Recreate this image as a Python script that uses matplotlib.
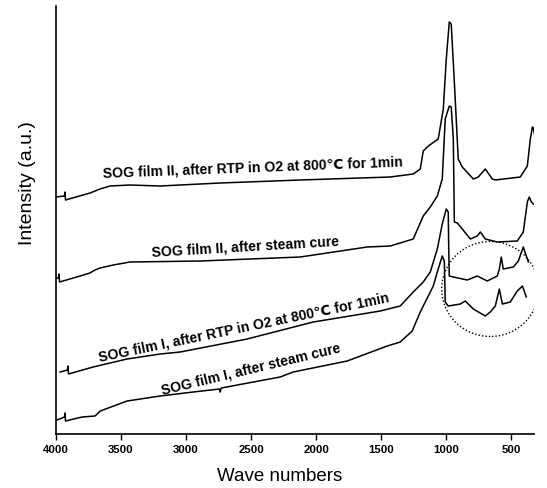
import matplotlib.pyplot as plt
from matplotlib.patches import Ellipse

plt.rcParams['font.family'] = ['Liberation Sans', 'DejaVu Sans']

# wavenumber (cm-1) / intensity (a.u.)
wn_a = [4000, 3935, 3931, 3927, 3738, 3662, 3585, 3431, 3200, 2738, 2123, 1431,
        1254, 1200, 1177, 1138, 1062, 1023, 1000, 977, 962, 938, 908, 877, 792,
        754, 700, 646, 623, 431, 377, 354, 338, 331, 323]
int_a = [237, 238, 242, 234, 241, 245, 248, 249, 248, 251, 254, 257,
         260, 265, 283, 288, 295, 325, 375, 412, 410, 352, 275, 267, 255,
         257, 265, 255, 254, 257, 268, 295, 307, 306, 300]

wn_b = [3995, 3981, 3977, 3973, 3815, 3740, 3700, 3662, 3560, 3431, 2892, 2123,
        1608, 1431, 1254, 1177, 1123, 1069, 1031, 1008, 977, 962, 946, 938, 915,
        877, 815, 762, 738, 700, 608, 454, 408, 377, 362, 346, 331]
int_b = [156, 156, 160, 152, 158, 161, 164, 166, 169, 172, 173, 177,
         187, 188, 195, 218, 227, 238, 255, 315, 328, 327, 295, 212, 211,
         205, 195, 198, 202, 195, 192, 193, 202, 232, 237, 232, 230]

wn_c = [3969, 3912, 3908, 3904, 3715, 3454, 3200, 3046, 2531, 2023, 1508, 1354,
        1254, 1177, 1123, 1069, 1031, 1000, 985, 981, 977, 946, 838, 762, 685,
        608, 592, 577, 562, 485, 446, 408, 369]
int_c = [62, 64, 68, 60, 67, 75, 80, 82, 95, 112, 123, 128,
         142, 152, 162, 185, 210, 225, 222, 185, 158, 157, 154, 158, 153,
         158, 165, 177, 165, 167, 173, 187, 172]

wn_d = [3992, 3935, 3931, 3927, 3800, 3700, 3660, 3454, 3200, 2946, 2745, 2738,
        2730, 2277, 2177, 1762, 1454, 1354, 1262, 1200, 1100, 1062, 1031, 1015,
        1008, 985, 892, 854, 792, 700, 662, 623, 592, 569, 508, 454, 415, 385]
int_d = [14, 17, 21, 13, 17, 18, 23, 33, 38, 42, 45, 42,
         46, 57, 62, 73, 88, 92, 103, 122, 148, 165, 178, 173,
         132, 128, 130, 133, 125, 118, 122, 128, 145, 130, 132, 143, 148, 137]

labels = ['SOG film II, after RTP in O2 at 800\u2103 for 1min',
          'SOG film II, after steam cure',
          'SOG film I, after RTP in O2 at 800\u2103 for 1min',
          'SOG film I, after steam cure']
label_pos = [(3638, 257), (3262, 179), (3662, 73), (3185, 40)]
label_rot = [2.2, 3.4, 11.7, 13.5]

fig = plt.figure(figsize=(5.47, 4.89), dpi=100)
ax = fig.add_axes([0.1024, 0.1104, 0.874, 0.8753])

for wn, inten in [(wn_a, int_a), (wn_b, int_b), (wn_c, int_c), (wn_d, int_d)]:
    ax.plot(wn, inten, color='black', linewidth=1.1)

for text, (x, y), rot in zip(labels, label_pos, label_rot):
    ax.text(x, y, text, rotation=rot, rotation_mode='anchor',
            ha='left', va='baseline', fontsize=10.1, fontweight='bold')

# dotted circle around the fingerprint region
ax.add_patch(Ellipse((662, 145), 746, 95, fill=False, linestyle=(0, (1, 1.5)),
                     linewidth=1.0, edgecolor='black'))

ax.set_xlim(4000, 325)
ax.set_ylim(0, 428)
ax.set_xticks([4000, 3500, 3000, 2500, 2000, 1500, 1000, 500])
ax.set_yticks([])
ax.tick_params(axis='x', direction='out', length=4, width=1, labelsize=8.2)
for lab in ax.get_xticklabels():
    lab.set_fontweight('bold')
for s in ['top', 'right']:
    ax.spines[s].set_visible(False)
ax.spines['left'].set_linewidth(1.2)
ax.spines['bottom'].set_linewidth(1.2)

ax.set_xlabel('Wave numbers', fontsize=13.5)
ax.set_ylabel('Intensity (a.u.)', fontsize=14)
ax.xaxis.set_label_coords(0.467, -0.078)
ax.yaxis.set_label_coords(-0.042, 0.589)

fig.savefig('out.png', dpi=100)
